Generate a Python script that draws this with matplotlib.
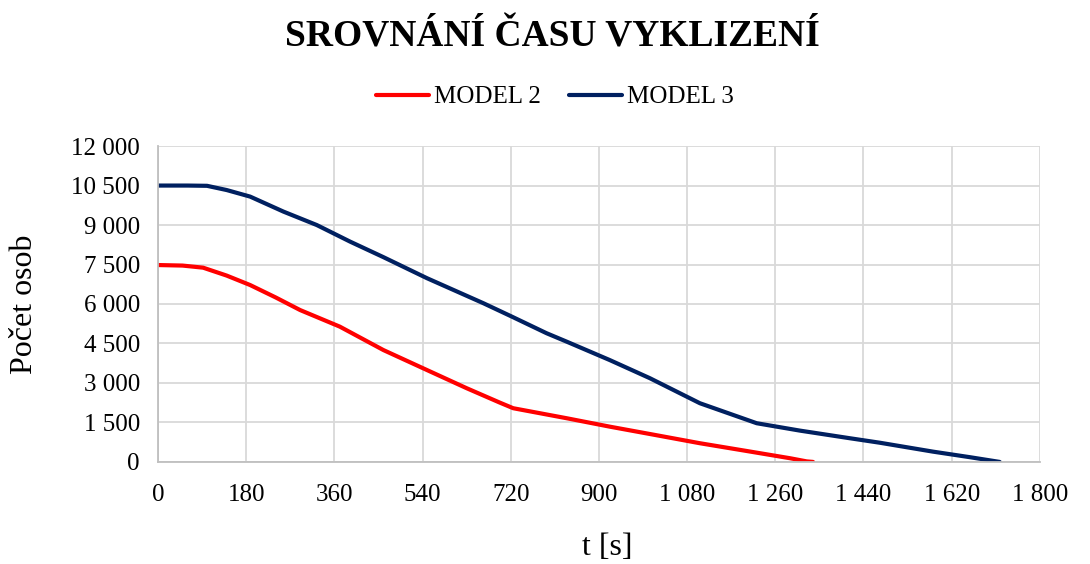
import matplotlib.pyplot as plt
from matplotlib.ticker import FuncFormatter

plt.rcParams['font.family'] = ['Liberation Serif', 'DejaVu Serif']

# Průběh vyklizení - model 2
t_model2 = [0, 50, 92, 140, 188, 240, 290, 371, 460, 549, 630, 698, 725, 834, 922, 1010, 1106, 1200, 1290, 1324, 1337]
n_model2 = [7480, 7460, 7380, 7080, 6720, 6250, 5770, 5140, 4250, 3490, 2800, 2250, 2040, 1660, 1340, 1040, 710, 420, 140, 20, 0]

# Průběh vyklizení - model 3
t_model3 = [0, 60, 100, 140, 188, 256, 324, 392, 460, 549, 664, 720, 793, 834, 922, 1004, 1106, 1222, 1310, 1412, 1473, 1582, 1657, 1718]
n_model3 = [10500, 10500, 10490, 10330, 10080, 9510, 9000, 8370, 7780, 6980, 6030, 5540, 4890, 4570, 3870, 3180, 2230, 1470, 1190, 900, 730, 390, 180, 0]

x_ticks = list(range(0, 1801, 180))
y_ticks = list(range(0, 12001, 1500))


def thousands(v, pos):
    return f"{int(v):,}".replace(",", " ")


fig = plt.figure(figsize=(10.9, 5.64), dpi=100)
ax = fig.add_axes([0.145, 0.181, 0.809, 0.560])

ax.plot(t_model2, n_model2, color="#ff0000", lw=3, solid_capstyle="round", label="MODEL 2")
ax.plot(t_model3, n_model3, color="#002060", lw=3, solid_capstyle="round", label="MODEL 3")

ax.set_xlim(0, 1800)
ax.set_ylim(0, 12000)
ax.set_xticks(x_ticks)
ax.set_yticks(y_ticks)
ax.xaxis.set_major_formatter(FuncFormatter(thousands))
ax.yaxis.set_major_formatter(FuncFormatter(thousands))
ax.tick_params(length=0, labelsize=18, colors="black")
ax.tick_params(axis="x", pad=16)
ax.tick_params(axis="y", pad=13)
ax.grid(True, color="#d9d9d9", lw=1.3)
ax.set_axisbelow(True)

for side in ["top", "right"]:
    ax.spines[side].set_visible(False)
for side in ["left", "bottom"]:
    ax.spines[side].set_color("#bfbfbf")
    ax.spines[side].set_linewidth(1.3)

ax.set_xlabel("t [s]", fontsize=23, va="center")
ax.xaxis.set_label_coords(0.509, -0.272)
ax.set_ylabel("Počet osob", fontsize=23, va="center")
ax.yaxis.set_label_coords(-0.151, 0.5)

fig.text(0.507, 0.934, "SROVNÁNÍ ČASU VYKLIZENÍ", ha="center", va="center",
         fontsize=27, fontweight="bold")
fig.legend(loc="center", bbox_to_anchor=(0.509, 0.828), ncol=2, frameon=False,
           fontsize=18, handlelength=2.1, handletextpad=0.2, columnspacing=1.15)

fig.savefig("out.png", dpi=100)
